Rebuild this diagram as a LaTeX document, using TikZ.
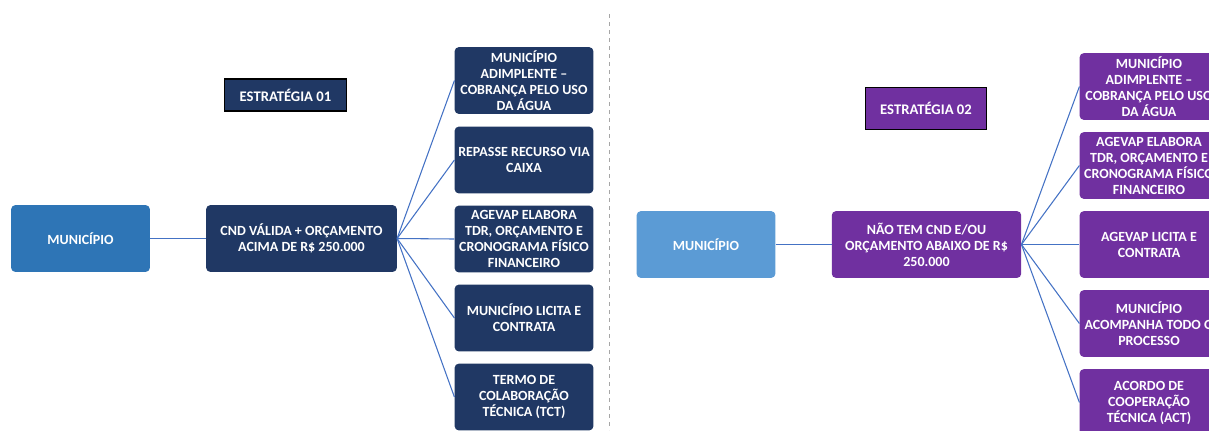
\documentclass[tikz,border=0pt]{standalone}
\usepackage{fontspec}
\setmainfont{Carlito}
\definecolor{navy}{HTML}{203864}
\definecolor{azul}{HTML}{2E75B6}
\definecolor{azulclaro}{HTML}{5B9BD5}
\definecolor{roxo}{HTML}{7030A0}
\definecolor{linha}{HTML}{4472C4}
\begin{document}
\begin{tikzpicture}[x=0.75pt,y=-0.75pt,
  caixa/.style={rounded corners=3pt,text=white,font=\bfseries\fontsize{10.5}{12}\selectfont,
    align=center,inner sep=0pt,minimum height=50pt},
  titulo/.style={draw=black,thick,text=white,font=\bfseries\fontsize{11}{13}\selectfont,
    minimum width=91pt},
  liga/.style={linha,line width=0.8pt}]
\useasboundingbox (0,0) rectangle (1209,430);
\def\bw{104pt} % box width
% separator
\draw[gray!70,dashed,line width=0.6pt] (609,14) -- (609,430);
% strategy 01
\node[titulo,fill=navy,minimum height=24pt] (est1) at (285.5,95) {ESTRATÉGIA 01};
\node[caixa,fill=azul,minimum width=\bw] (mun1) at (80.5,238.5) {MUNICÍPIO};
\node[caixa,fill=navy,minimum width=143pt] (cnd) at (301.5,238.5) {CND VÁLIDA + ORÇAMENTO\\ACIMA DE R\$ 250.000};
\node[caixa,fill=navy,minimum width=\bw] (a1) at (524,80.5) {MUNICÍPIO\\ADIMPLENTE --\\COBRANÇA PELO USO\\DA ÁGUA};
\node[caixa,fill=navy,minimum width=\bw] (a2) at (524,160) {REPASSE RECURSO VIA\\CAIXA};
\node[caixa,fill=navy,minimum width=\bw] (a3) at (524,239) {AGEVAP ELABORA\\TDR, ORÇAMENTO E\\CRONOGRAMA FÍSICO\\FINANCEIRO};
\node[caixa,fill=navy,minimum width=\bw] (a4) at (524,318) {MUNICÍPIO LICITA E\\CONTRATA};
\node[caixa,fill=navy,minimum width=\bw] (a5) at (524,397) {TERMO DE\\COLABORAÇÃO\\TÉCNICA (TCT)};
\draw[liga] (mun1) -- (cnd);
\foreach \n in {a1,a2,a3,a4,a5}
  \draw[liga] (cnd.east) -- (\n.west);
% strategy 02
\node[titulo,fill=roxo,minimum height=32pt] (est2) at (926,108.5) {ESTRATÉGIA 02};
\node[caixa,fill=azulclaro,minimum width=\bw] (mun2) at (706,244.5) {MUNICÍPIO};
\node[caixa,fill=roxo,minimum width=142pt] (nao) at (926.5,244.5) {NÃO TEM CND E/OU\\ORÇAMENTO ABAIXO DE R\$\\250.000};
\node[caixa,fill=roxo,minimum width=\bw] (b1) at (1149,86.5) {MUNICÍPIO\\ADIMPLENTE --\\COBRANÇA PELO USO\\DA ÁGUA};
\node[caixa,fill=roxo,minimum width=\bw] (b2) at (1149,165.5) {AGEVAP ELABORA\\TDR, ORÇAMENTO E\\CRONOGRAMA FÍSICO\\FINANCEIRO};
\node[caixa,fill=roxo,minimum width=\bw] (b3) at (1149,244.5) {AGEVAP LICITA E\\CONTRATA};
\node[caixa,fill=roxo,minimum width=\bw] (b4) at (1149,323.5) {MUNICÍPIO\\ACOMPANHA TODO O\\PROCESSO};
\node[caixa,fill=roxo,minimum width=\bw] (b5) at (1149,402.5) {ACORDO DE\\COOPERAÇÃO\\TÉCNICA (ACT)};
\draw[liga] (mun2) -- (nao);
\foreach \n in {b1,b2,b3,b4,b5}
  \draw[liga] (nao.east) -- (\n.west);
\end{tikzpicture}
\end{document}
